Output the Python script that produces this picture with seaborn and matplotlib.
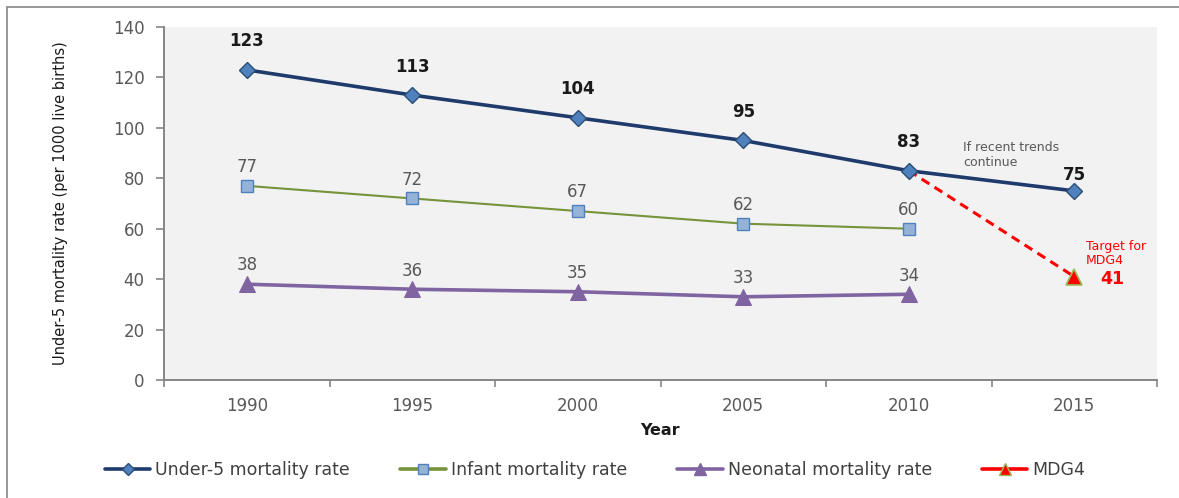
import numpy as np
import pandas as pd
import matplotlib
matplotlib.use("Agg")
import matplotlib.pyplot as plt
import seaborn as sns
from matplotlib.patches import Rectangle
from matplotlib.lines import Line2D

# Data
years = ["1990", "1995", "2000", "2005", "2010", "2015"]
under5 = [123, 113, 104, 95, 83, 75]
infant = [77, 72, 67, 62, 60]
neonatal = [38, 36, 35, 33, 34]
mdg_years = ["2010", "2015"]
mdg4 = [83, 41]
y_ticks = [0, 20, 40, 60, 80, 100, 120, 140]

sns.set_theme(style="white")
plt.rcParams['font.family'] = ['DejaVu Sans']

pos = {y: i for i, y in enumerate(years)}


def frame(ys, vals):
    return pd.DataFrame({"x": [pos[y] for y in ys], "v": vals})


df_u5 = frame(years, under5)
df_inf = frame(years[:len(infant)], infant)
df_neo = frame(years[:len(neonatal)], neonatal)
df_mdg = frame(mdg_years, mdg4)

fig = plt.figure(figsize=(11.79, 4.98), dpi=100)
ax = fig.add_axes([164 / 1179, 1 - 380 / 498, (1157 - 164) / 1179, (380 - 27) / 498])
ax.set_facecolor("#f2f2f2")

# MDG4 target line (drawn first so it sits beneath the blue line)
sns.lineplot(data=df_mdg, x="x", y="v", ax=ax, color="#ff0000", lw=2.2,
             linestyle=(0, (3, 2)), zorder=2)
ax.plot(df_mdg["x"].iloc[-1], df_mdg["v"].iloc[-1], marker="^", ms=11,
        color="#ff0000", mec="#9bbb59", mew=1.2, zorder=5)

sns.lineplot(data=df_u5, x="x", y="v", ax=ax, color="#1f3b6b", lw=2.6,
             marker="D", ms=8, mfc="#4f81bd", mec="#2c4d75", mew=1, zorder=4)
sns.lineplot(data=df_inf, x="x", y="v", ax=ax, color="#77933c", lw=1.5,
             marker="s", ms=8, mfc="#95b3d7", mec="#4f81bd", mew=1, zorder=3)
sns.lineplot(data=df_neo, x="x", y="v", ax=ax, color="#8064a2", lw=2.6,
             marker="^", ms=11, mfc="#8064a2", mec="#8064a2", zorder=3)

# Data labels (the projected 2015 value sits closer to its marker)
n_u5 = len(df_u5)
for i, (x, v) in enumerate(zip(df_u5["x"], df_u5["v"])):
    dy = 5 if i == n_u5 - 1 else 14
    ax.annotate(str(v), (x, v), xytext=(0, dy), textcoords="offset points",
                ha="center", va="bottom", fontsize=12, fontweight="bold",
                color="#1a1a1a")
for df in (df_inf, df_neo):
    for x, v in zip(df["x"], df["v"]):
        ax.annotate(str(v), (x, v), xytext=(0, 7), textcoords="offset points",
                    ha="center", va="bottom", fontsize=12, color="#595959")

ax.text(4.33, 83.5, "If recent trends\ncontinue", fontsize=9, color="#595959",
        ha="left", va="bottom", linespacing=1.2)
ax.text(5.07, 45.0, "Target for\nMDG4", fontsize=9, color="#ff0000",
        ha="left", va="bottom", linespacing=1.1)
ax.text(5.16, 40.0, "41", fontsize=12.5, color="#ff0000", fontweight="bold",
        ha="left", va="center")

# Axes styling
ax.set_xlim(-0.5, len(years) - 0.5)
ax.set_ylim(0, 140)
ax.set_yticks(y_ticks)
ax.set_xticks(range(len(years)))
ax.set_xticklabels(years)
ax.set_xticks(np.arange(-0.5, len(years)), minor=True)
ax.tick_params(axis="x", which="major", length=0, pad=12, labelsize=12,
               labelcolor="#595959")
ax.tick_params(axis="x", which="minor", length=5, color="#868686", width=1.2,
               direction="out", bottom=True)
ax.tick_params(axis="y", length=6, color="#868686", width=1.2, direction="out",
               left=True, labelsize=12, labelcolor="#595959", pad=8)
for s in ("top", "right"):
    ax.spines[s].set_visible(False)
for s in ("left", "bottom"):
    ax.spines[s].set_color("#868686")
    ax.spines[s].set_linewidth(1.4)
ax.grid(False)

ax.set_xlabel("Year", fontsize=11.5, fontweight="bold", color="#1a1a1a", labelpad=6)
ax.set_ylabel("Under-5 mortality rate (per 1000 live births)", fontsize=10.5,
              color="#1a1a1a", labelpad=32)

# Legend
handles = [
    Line2D([], [], color="#1f3b6b", lw=2.6, marker="D", ms=6, mfc="#4f81bd", mec="#2c4d75"),
    Line2D([], [], color="#77933c", lw=2.6, marker="s", ms=7, mfc="#95b3d7", mec="#4f81bd"),
    Line2D([], [], color="#8064a2", lw=2.6, marker="^", ms=8, mfc="#8064a2", mec="#8064a2"),
    Line2D([], [], color="#ff0000", lw=2.6, marker="^", ms=8, mfc="#ff0000", mec="#9bbb59"),
]
labels = ["Under-5 mortality rate", "Infant mortality rate",
          "Neonatal mortality rate", "MDG4"]
fig.legend(handles, labels, loc="center left", bbox_to_anchor=(105 / 1179, 1 - 470 / 498),
           ncol=4, frameon=False, handlelength=2.6, handletextpad=0.3,
           columnspacing=2.9, borderpad=0, borderaxespad=0,
           prop={"size": 12.5}, labelcolor="#404040")

# Outer chart border
fig.patches.append(Rectangle((7 / 1179, -0.01), 1.0, 1 - 7 / 498 + 0.01,
                             transform=fig.transFigure, fill=False,
                             edgecolor="#868686", lw=1.2))

fig.savefig("out.png", dpi=100)
